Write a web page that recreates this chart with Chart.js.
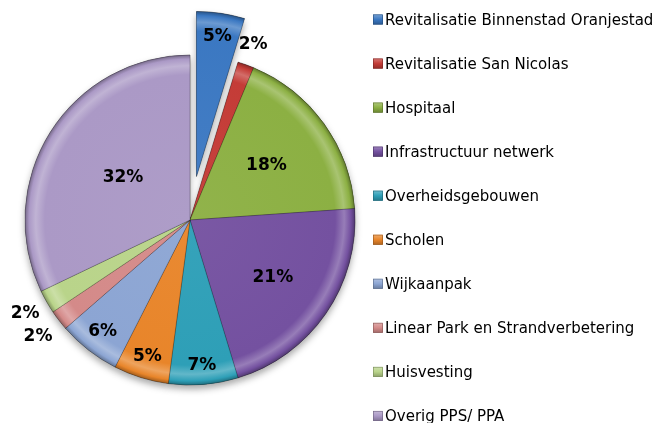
<!DOCTYPE html>
<html>
<head>
<meta charset="utf-8">
<script src="https://cdn.jsdelivr.net/npm/chart.js@4.4.1/dist/chart.umd.min.js"></script>
<style>
  html, body { margin: 0; padding: 0; background: #fff; }
  #wrap { width: 654px; height: 423px; }
</style>
</head>
<body>
<div id="wrap"><canvas id="pie" width="654" height="423"></canvas></div>
<script>
// data (share of total, in %)
const categories = [
  'Revitalisatie Binnenstad Oranjestad',
  'Revitalisatie San Nicolas',
  'Hospitaal',
  'Infrastructuur netwerk',
  'Overheidsgebouwen',
  'Scholen',
  'Wijkaanpak',
  'Linear Park en Strandverbetering',
  'Huisvesting',
  'Overig PPS/ PPA'
];
const shares = [4.7, 1.6, 17.6, 21.4, 6.8, 5.4, 6.1, 2.0, 2.3, 32.1];
const sliceColors = [
  '#3B78C2', '#C43C37', '#8CB043', '#7451A0', '#2E9FB7',
  '#E8852A', '#8CA5D3', '#D48A89', '#B9D48A', '#AB99C6'
];

// styling: how far a slice is pulled out, and where its label sits (fraction of radius)
const explodeBy = [44, 0, 0, 0, 0, 0, 0, 0, 0, 0];
const labelRadius = [0.86, 1.13, 0.57, 0.61, 0.885, 0.87, 0.86, 1.16, 1.15, 0.48];

function mix(hex, target, t) {
  const a = parseInt(hex.slice(1), 16);
  const b = parseInt(target.slice(1), 16);
  const ch = s => {
    const x = (a >> s) & 255, y = (b >> s) & 255;
    return Math.round(x + (y - x) * t);
  };
  return `rgb(${ch(16)},${ch(8)},${ch(0)})`;
}

const total = shares.reduce((s, v) => s + v, 0);

// pull slices out and give them a bevel-like radial shading
const explodePlugin = {
  id: 'explode',
  afterDatasetsUpdate(chart) {
    const ctx = chart.ctx;
    chart.getDatasetMeta(0).data.forEach((arc, i) => {
      const mid = (arc.startAngle + arc.endAngle) / 2;
      arc.x += Math.cos(mid) * explodeBy[i];
      arc.y += Math.sin(mid) * explodeBy[i];
      const base = sliceColors[i];
      const g = ctx.createRadialGradient(arc.x, arc.y, 0, arc.x, arc.y, arc.outerRadius);
      g.addColorStop(0, mix(base, '#ffffff', 0.04));
      g.addColorStop(0.88, base);
      g.addColorStop(0.935, mix(base, '#ffffff', 0.25));
      g.addColorStop(0.975, base);
      g.addColorStop(1, mix(base, '#000000', 0.3));
      arc.options = Object.assign({}, arc.options, { backgroundColor: g });
    });
  },
  beforeDatasetsDraw(chart) {
    const ctx = chart.ctx;
    ctx.save();
    ctx.shadowColor = 'rgba(0,0,0,0.35)';
    ctx.shadowBlur = 7;
    ctx.shadowOffsetY = 4;
    chart.getDatasetMeta(0).data.forEach(arc => arc.draw(ctx));
    ctx.restore();
  }
};

const labelPlugin = {
  id: 'sliceLabels',
  afterDatasetsDraw(chart) {
    const ctx = chart.ctx;
    ctx.save();
    ctx.font = 'bold 17px "DejaVu Sans"';
    ctx.fillStyle = '#000';
    ctx.textAlign = 'center';
    ctx.textBaseline = 'middle';
    chart.getDatasetMeta(0).data.forEach((arc, i) => {
      const mid = (arc.startAngle + arc.endAngle) / 2;
      const r = arc.outerRadius * labelRadius[i];
      const pct = Math.round(shares[i] / total * 100) + '%';
      ctx.fillText(pct, arc.x + Math.cos(mid) * r, arc.y + Math.sin(mid) * r);
    });
    ctx.restore();
  }
};

// legend on the right, spread over the full height like the original
const sideLegend = {
  id: 'sideLegend',
  afterDraw(chart) {
    const ctx = chart.ctx;
    ctx.save();
    ctx.font = '15px "DejaVu Sans"';
    ctx.textBaseline = 'alphabetic';
    ctx.textAlign = 'left';
    categories.forEach((name, i) => {
      const cy = 19.5 + i * 44.05;
      const g = ctx.createLinearGradient(0, cy - 5, 0, cy + 5);
      g.addColorStop(0, mix(sliceColors[i], '#ffffff', 0.3));
      g.addColorStop(0.5, sliceColors[i]);
      g.addColorStop(1, mix(sliceColors[i], '#000000', 0.25));
      ctx.fillStyle = g;
      ctx.fillRect(373, cy - 5, 10, 10);
      ctx.strokeStyle = mix(sliceColors[i], '#000000', 0.35);
      ctx.lineWidth = 0.6;
      ctx.strokeRect(373.3, cy - 4.7, 9.4, 9.4);
      ctx.fillStyle = '#000';
      ctx.fillText(name, 385, cy + 5.5);
    });
    ctx.restore();
  }
};

new Chart(document.getElementById('pie'), {
  type: 'pie',
  data: {
    labels: categories,
    datasets: [{
      data: shares,
      backgroundColor: c => sliceColors[c.dataIndex],
      borderColor: 'rgba(0,0,0,0.22)',
      borderWidth: 1,
      radius: 165,
      clip: false
    }]
  },
  options: {
    responsive: false,
    animation: false,
    events: [],
    rotation: 0,
    layout: { padding: { left: 0, right: 274, top: 17, bottom: 0 } },
    plugins: {
      legend: { display: false },
      tooltip: { enabled: false }
    }
  },
  plugins: [explodePlugin, labelPlugin, sideLegend]
});
</script>
</body>
</html>
